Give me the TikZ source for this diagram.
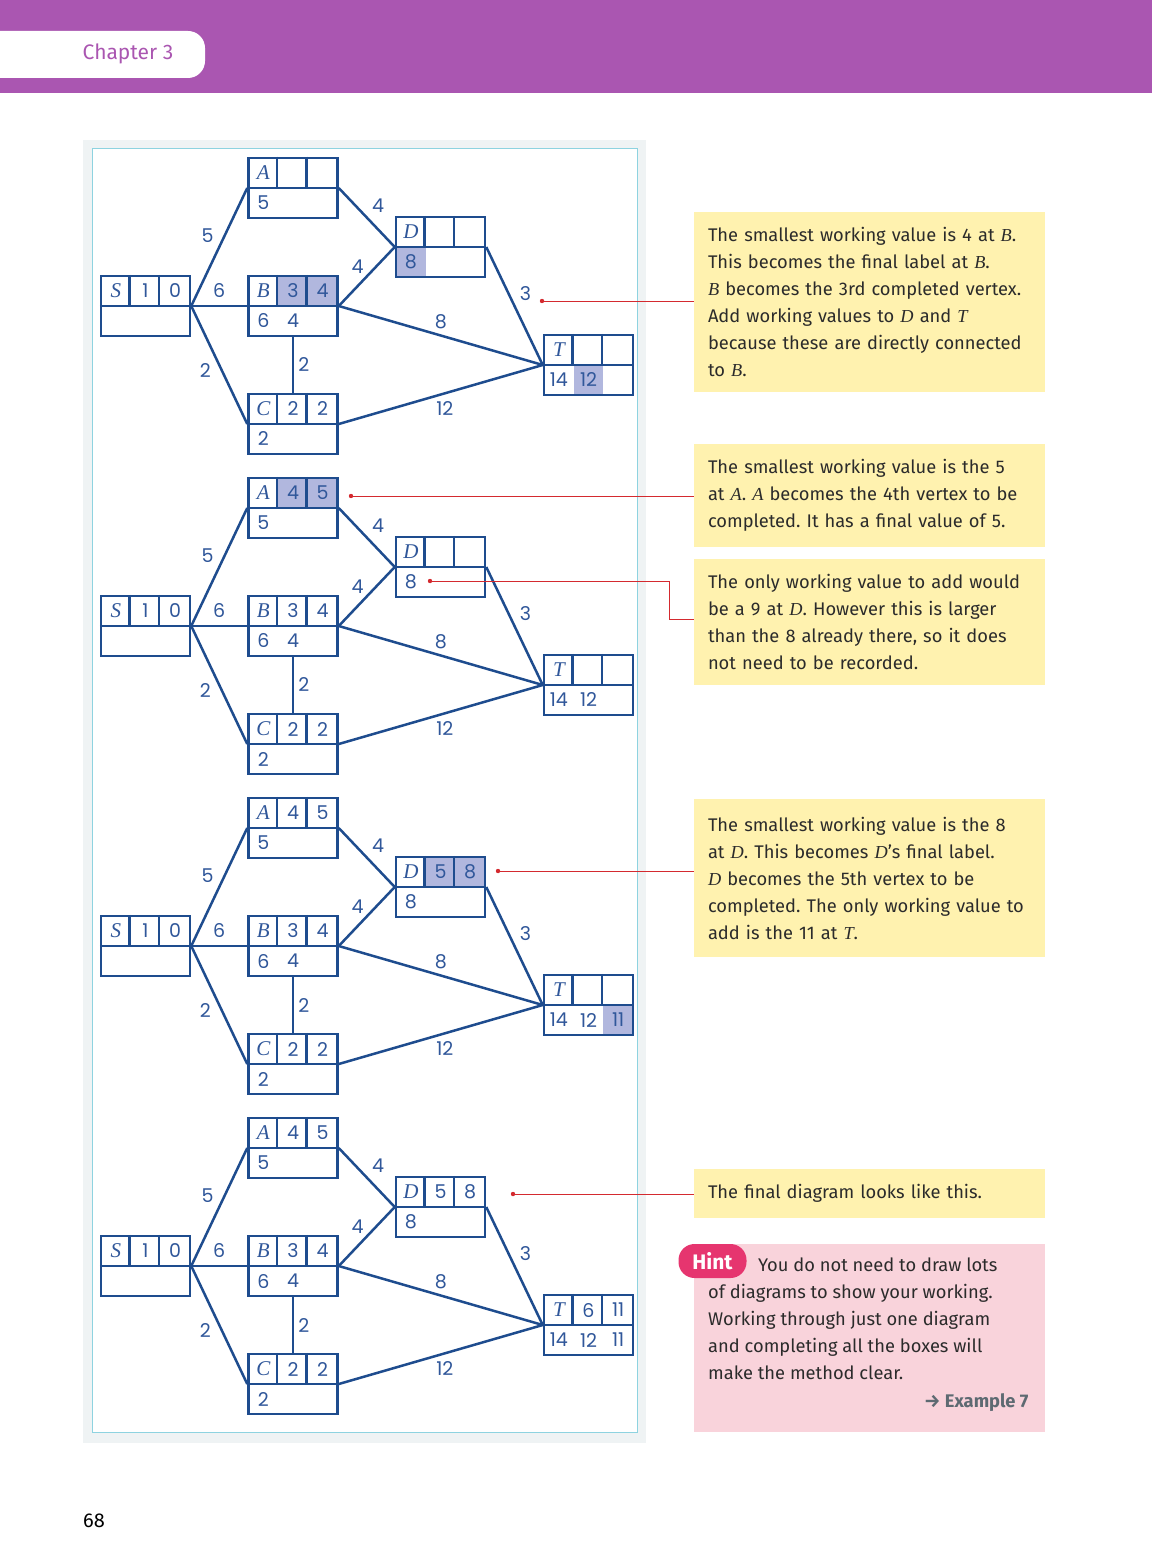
\documentclass[tikz,border=0pt]{standalone}
\usepackage{fontspec}
\setmainfont{Fira Sans}
\newfontfamily\serifit{Liberation Serif}
\newfontfamily\numfont{Poppins}
\usetikzlibrary{calc}
\frenchspacing

\definecolor{headpurple}{HTML}{AA56B1}
\definecolor{framegray}{HTML}{EFF3F4}
\definecolor{framecyan}{HTML}{8ED3E0}
\definecolor{boxblue}{HTML}{1E4C8E}
\definecolor{numblue}{HTML}{30579A}
\definecolor{hlfill}{HTML}{B1B7DE}
\definecolor{noteyellow}{HTML}{FFF2AF}
\definecolor{pointred}{HTML}{D42A2F}
\definecolor{hintback}{HTML}{F9D3DB}
\definecolor{hintbadge}{HTML}{E6356F}
\definecolor{textgray}{HTML}{2B2B2B}
\definecolor{refgray}{HTML}{5E6A72}

\tikzset{>=latex}
\tikzset{
  vbox/.style={draw=boxblue, line width=2.5pt, minimum width=89pt, minimum height=60pt, inner sep=0pt},
  boxline/.style={draw=boxblue, line width=2.5pt},
  edge/.style={draw=boxblue, line width=2.5pt},
  cell/.style={text=numblue, inner sep=0pt, font=\numfont\fontsize{19}{19}\selectfont},
  wt/.style={text=numblue, inner sep=2pt, font=\numfont\fontsize{19}{19}\selectfont},
  note/.style={fill=noteyellow, minimum width=351pt, text width=323pt, inner xsep=14pt, inner ysep=0pt,
    align=left, text=textgray, font=\fontsize{18.3}{27}\selectfont},
  pointer/.style={draw=pointred, line width=1pt},
}

% vertex italic letter
\newcommand{\vlet}[1]{{\serifit\itshape #1}}

% Dijkstra box: name, centre, letter, order, final, working values, highlighted cells
\newcommand{\dijbox}[9]{%
  \coordinate (#1) at (#2);
  \if\relax\detokenize{#9}\relax\else
    \foreach \hc/\hr in {#9}
      \fill[hlfill] ($(#1)+({(\hc-1)*89/3-44.5},{\hr*30-30})$) rectangle ++(89/3,30);
  \fi
  \node[vbox] (#1) at (#2) {};
  \draw[boxline] (#1.west) -- (#1.east);
  \draw[boxline] ($(#1.north west)+(89/3,0)$) -- ++(0,30);
  \draw[boxline] ($(#1.north west)+(2*89/3,0)$) -- ++(0,30);
  \node[cell, font=\fontsize{21}{21}\selectfont] (#1-l) at ($(#1)+(-89/3,-15)$) {\vlet{#3}};
  \node[cell] (#1-o) at ($(#1)+(0,-15)$) {#4};
  \node[cell] (#1-f) at ($(#1)+(89/3,-15)$) {#5};
  \node[cell] (#1-w) at ($(#1)+(-89/3,15)$) {#6};
  \node[cell] (#1-x) at ($(#1)+(0,15)$) {#7};
  \node[cell] (#1-y) at ($(#1)+(89/3,15)$) {#8};
}

% network arcs of one panel
\newcommand{\dijedges}[1]{%
  \draw[edge] (S#1.east) -- node[wt,pos=0.6,left=8pt] {5} (A#1.west);
  \draw[edge] (S#1.east) -- node[wt,midway,above=5pt] {6} (B#1.west);
  \draw[edge] (S#1.east) -- node[wt,pos=0.55,left=8pt] {2} (C#1.west);
  \draw[edge] (B#1.south) -- node[wt,midway,right=2pt] {2} (C#1.north);
  \draw[edge] (A#1.east) -- node[wt,midway,above right=2pt] {4} (D#1.west);
  \draw[edge] (B#1.east) -- node[wt,midway,above left=0pt] {4} (D#1.west);
  \draw[edge] (B#1.east) -- node[wt,midway,above=3pt] {8} (T#1.west);
  \draw[edge] (D#1.east) -- node[wt,midway,above right=2pt] {3} (T#1.west);
  \draw[edge] (C#1.east) -- node[wt,midway,below=4pt,xshift=4pt] {12} (T#1.west);
}

\begin{document}
\begin{tikzpicture}[x=1pt,y=-1pt]
  \useasboundingbox (0,0) rectangle (1152,1565);

  % header band
  \fill[headpurple] (0,0) rectangle (1152,93);
  \fill[white, rounded corners=17pt] (-40,31) rectangle (205,78);
  \node[text=headpurple, font=\fontsize{21}{21}\selectfont] (chap) at (128,54) {Chapter 3};

  % frame round the diagrams
  \fill[framegray] (83,140) rectangle (646,1443);
  \draw[framecyan, fill=white, line width=1pt] (92,149) rectangle (637,1432);

  % panel 1
  \dijbox{S1}{145.5,306}{S}{1}{0}{}{}{}{}
  \dijbox{A1}{293,188}{A}{}{}{5}{}{}{}
  \dijbox{B1}{293,306}{B}{3}{4}{6}{4}{}{2/0,3/0}
  \dijbox{C1}{293,424}{C}{2}{2}{2}{}{}{}
  \dijbox{D1}{440.5,247}{D}{}{}{8}{}{}{1/1}
  \dijbox{T1}{588.5,365}{T}{}{}{14}{12}{}{2/1}
  \dijedges{1}

  % panel 2
  \dijbox{S2}{145.5,626}{S}{1}{0}{}{}{}{}
  \dijbox{A2}{293,508}{A}{4}{5}{5}{}{}{2/0,3/0}
  \dijbox{B2}{293,626}{B}{3}{4}{6}{4}{}{}
  \dijbox{C2}{293,744}{C}{2}{2}{2}{}{}{}
  \dijbox{D2}{440.5,567}{D}{}{}{8}{}{}{}
  \dijbox{T2}{588.5,685}{T}{}{}{14}{12}{}{}
  \dijedges{2}

  % panel 3
  \dijbox{S3}{145.5,946}{S}{1}{0}{}{}{}{}
  \dijbox{A3}{293,828}{A}{4}{5}{5}{}{}{}
  \dijbox{B3}{293,946}{B}{3}{4}{6}{4}{}{}
  \dijbox{C3}{293,1064}{C}{2}{2}{2}{}{}{}
  \dijbox{D3}{440.5,887}{D}{5}{8}{8}{}{}{2/0,3/0}
  \dijbox{T3}{588.5,1005}{T}{}{}{14}{12}{11}{3/1}
  \dijedges{3}

  % panel 4
  \dijbox{S4}{145.5,1266}{S}{1}{0}{}{}{}{}
  \dijbox{A4}{293,1148}{A}{4}{5}{5}{}{}{}
  \dijbox{B4}{293,1266}{B}{3}{4}{6}{4}{}{}
  \dijbox{C4}{293,1384}{C}{2}{2}{2}{}{}{}
  \dijbox{D4}{440.5,1207}{D}{5}{8}{8}{}{}{}
  \dijbox{T4}{588.5,1325}{T}{6}{11}{14}{12}{11}{}
  \dijedges{4}

  % notes
  \node[note, minimum height=180pt] (n1) at (869.5,302) {The smallest working value is 4 at \vlet{B}.\\
    This becomes the final label at \vlet{B}.\\
    \vlet{B} becomes the 3rd completed vertex.\\
    Add working values to \vlet{D} and \vlet{T}\\
    because these are directly connected\\
    to \vlet{B}.};
  \node[note, minimum height=103pt] (n2) at (869.5,495.5) {The smallest working value is the 5\\
    at \vlet{A}. \vlet{A} becomes the 4th vertex to be\\
    completed. It has a final value of 5.};
  \node[note, minimum height=126pt] (n3) at (869.5,622) {The only working value to add would\\
    be a 9 at \vlet{D}. However this is larger\\
    than the 8 already there, so it does\\
    not need to be recorded.};
  \node[note, minimum height=158pt] (n4) at (869.5,878) {The smallest working value is the 8\\
    at \vlet{D}. This becomes \vlet{D}’s final label.\\
    \vlet{D} becomes the 5th vertex to be\\
    completed. The only working value to\\
    add is the 11 at \vlet{T}.};
  \node[note, minimum height=49pt] (n5) at (869.5,1193.5) {The final diagram looks like this.};

  % pointers
  \coordinate (p1) at (542,301);
  \coordinate (p2) at (351,496);
  \coordinate (p3) at (430,581);
  \coordinate (p4) at (498,871);
  \coordinate (p5) at (513,1194);
  \foreach \p in {p1,p2,p3,p4,p5}
    \fill[pointred] (\p) circle (2.2pt);
  \draw[pointer] (p1) -- (p1 -| n1.west);
  \draw[pointer] (p2) -- (p2 -| n2.west);
  \draw[pointer] (p3) -- (669,581) -- (669,619) -- (n3.west |- 0,619);
  \draw[pointer] (p4) -- (p4 -| n4.west);
  \draw[pointer] (p5) -- (p5 -| n5.west);

  % hint
  \fill[hintback] (694,1244) rectangle (1045,1432);
  \node[fill=hintbadge, text=white, rounded corners=16pt, minimum width=68pt, minimum height=34pt,
    inner sep=0pt, font=\bfseries\fontsize{21}{21}\selectfont] (hint) at (712.5,1261) {Hint};
  \node[anchor=north west, inner sep=0pt, align=left, text=textgray, font=\fontsize{18.3}{27}\selectfont]
    (htext) at (708,1258) {\hspace*{50pt}You do not need to draw lots\\
    of diagrams to show your working.\\
    Working through just one diagram\\
    and completing all the boxes will\\
    make the method clear.};
  \node[anchor=east, text=refgray, font=\bfseries\fontsize{18.3}{18.3}\selectfont] (href) at (1032,1403) {→ Example 7};

  % page number
  \node[font=\fontsize{20}{20}\selectfont] (page) at (94,1521) {68};
\end{tikzpicture}
\end{document}
